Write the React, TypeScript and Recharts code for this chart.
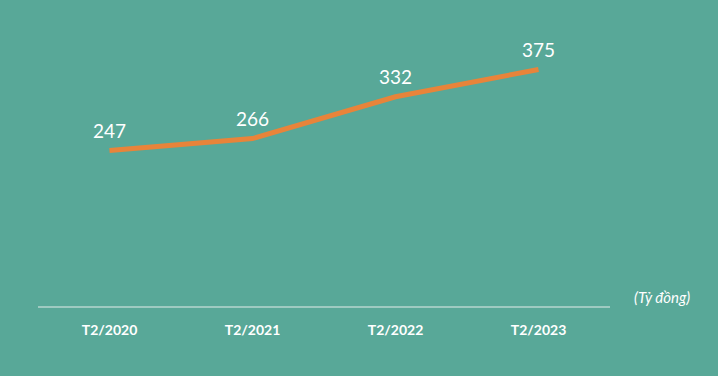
import { LineChart, Line, XAxis, YAxis, LabelList } from 'recharts'

const periods = ['T2/2020', 'T2/2021', 'T2/2022', 'T2/2023']
const revenue = [247, 266, 332, 375]
const unitLabel = '(Tỷ đồng)'

const data = periods.map((period, i) => ({ period, revenue: revenue[i] }))

export default function App() {
  return (
    <div
      style={{
        position: 'absolute',
        left: 0,
        top: 0,
        width: 718,
        height: 376,
        background: '#58a898',
        fontFamily: 'Lato, sans-serif',
      }}
    >
      <LineChart
        width={718}
        height={376}
        data={data}
        margin={{ top: 22, right: 108, left: 38, bottom: 39 }}
      >
        <XAxis
          dataKey="period"
          height={30}
          padding={{ left: 71.5, right: 71.5 }}
          axisLine={{ stroke: '#e4ecea', strokeWidth: 1 }}
          tickLine={false}
          tickMargin={12}
          tick={{ fill: '#ffffff', fontSize: 14, fontWeight: 700 }}
        />
        <YAxis hide domain={[0, 450]} />
        <Line
          dataKey="revenue"
          stroke="#e8843a"
          strokeWidth={5}
          dot={false}
          isAnimationActive={false}
        >
          <LabelList
            dataKey="revenue"
            position="top"
            offset={13}
            fill="#ffffff"
            fontSize={19}
          />
        </Line>
      </LineChart>
      <span
        style={{
          position: 'absolute',
          left: 634,
          top: 288,
          color: '#ffffff',
          fontStyle: 'italic',
          fontSize: 15,
        }}
      >
        {unitLabel}
      </span>
    </div>
  )
}
